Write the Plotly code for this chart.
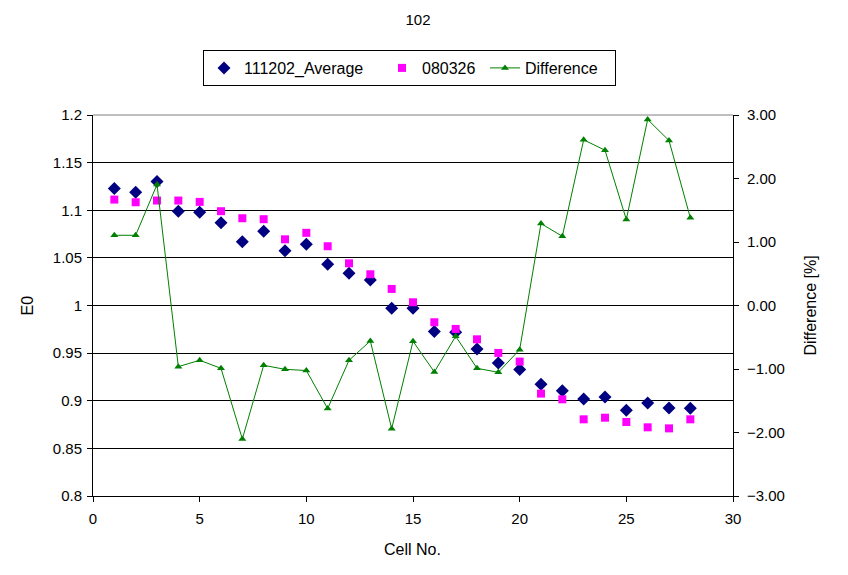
import plotly.graph_objects as go

cells = list(range(1, 29))
avg_111202 = [1.1228, 1.1189, 1.1302, 1.0990, 1.0979, 1.0868, 1.0668, 1.0780, 1.0574, 1.0643,
              1.0433, 1.0338, 1.0269, 0.9970, 0.9970, 0.9726, 0.9719, 0.9544, 0.9397, 0.9327,
              0.9172, 0.9106, 0.9019, 0.9040, 0.8899, 0.8977, 0.8924, 0.8920]
val_080326 = [1.1112, 1.1084, 1.1102, 1.1102, 1.1088, 1.0990, 1.0916, 1.0906, 1.0695, 1.0763,
              1.0622, 1.0443, 1.0328, 1.0174, 1.0034, 0.9824, 0.9754, 0.9645, 0.9502, 0.9411,
              0.9075, 0.9015, 0.8805, 0.8822, 0.8777, 0.8721, 0.8710, 0.8805]
difference = [1.106, 1.106, 1.905, -0.963, -0.863, -0.989, -2.102, -0.942, -1.005, -1.024,
              -1.624, -0.863, -0.558, -1.940, -0.564, -1.047, -0.485, -0.989, -1.052, -0.695,
              1.290, 1.090, 2.609, 2.445, 1.353, 2.929, 2.598, 1.380]

FONT = "Arial, Liberation Sans, sans-serif"

fig = go.Figure()
fig.add_trace(go.Scatter(x=cells, y=avg_111202, mode="markers", name="111202_Average",
                         legendwidth=133,
                         marker=dict(symbol="diamond", size=10, color="#000080")))
fig.add_trace(go.Scatter(x=cells, y=val_080326, mode="markers", name="080326",
                         legendwidth=58,
                         marker=dict(symbol="square", size=8, color="#FF00FF")))
fig.add_trace(go.Scatter(x=cells, y=difference, mode="lines+markers", name="Difference",
                         yaxis="y2", legendwidth=85,
                         line=dict(color="#008000", width=1),
                         marker=dict(symbol="triangle-up", size=7, color="#008000")))

fig.update_layout(
    width=848, height=575,
    paper_bgcolor="white", plot_bgcolor="white",
    margin=dict(l=85, r=123, t=107, b=87),
    font=dict(family=FONT, size=15, color="black"),
    title=dict(text="102", x=410/848, xref="container", y=1-12/575, yref="container",
               xanchor="center", yanchor="middle", font=dict(size=15)),
    showlegend=True,
    legend=dict(orientation="h", xref="container", yref="container",
                x=195/848, xanchor="left", y=1-42/575, yanchor="top",
                bordercolor="black", borderwidth=1, bgcolor="white",
                font=dict(size=16), tracegroupgap=0),
    xaxis=dict(range=[0, 30], dtick=5, tick0=0, showgrid=False, zeroline=False,
               showline=True, linecolor="black", linewidth=1,
               ticks="outside", ticklen=5, tickcolor="black", ticklabelstandoff=4),
    yaxis=dict(range=[0.8, 1.2], dtick=0.05, tick0=0.8, showgrid=True, gridcolor="black",
               gridwidth=1, zeroline=False, showline=True, linecolor="black", linewidth=1,
               ticks="outside", ticklen=5, tickcolor="black", ticklabelstandoff=2),
    yaxis2=dict(range=[-3, 3], dtick=1, tick0=-3, tickformat=".2f", overlaying="y",
                side="right", showgrid=False, zeroline=False, showline=True,
                linecolor="black", linewidth=1, ticks="outside", ticklen=5,
                tickcolor="black", ticklabelstandoff=5),
    annotations=[
        dict(text="Cell No.", xref="paper", yref="paper", x=(412-93)/640, y=-(550-496.3)/380.8,
             xanchor="center", yanchor="middle", showarrow=False, font=dict(size=16)),
        dict(text="E0", xref="paper", yref="paper", x=(27-93)/640, y=0.5, textangle=-90,
             xanchor="center", yanchor="middle", showarrow=False, font=dict(size=16)),
        dict(text="Difference [%]", xref="paper", yref="paper", x=(810-93)/640, y=0.5,
             textangle=-90, xanchor="center", yanchor="middle", showarrow=False,
             font=dict(size=16)),
    ],
)

fig.add_shape(type="line", xref="x domain", yref="y domain", x0=0, x1=1, y0=1, y1=1,
              line=dict(color="#808080", width=1), layer="above")

fig.write_html("out.html")
